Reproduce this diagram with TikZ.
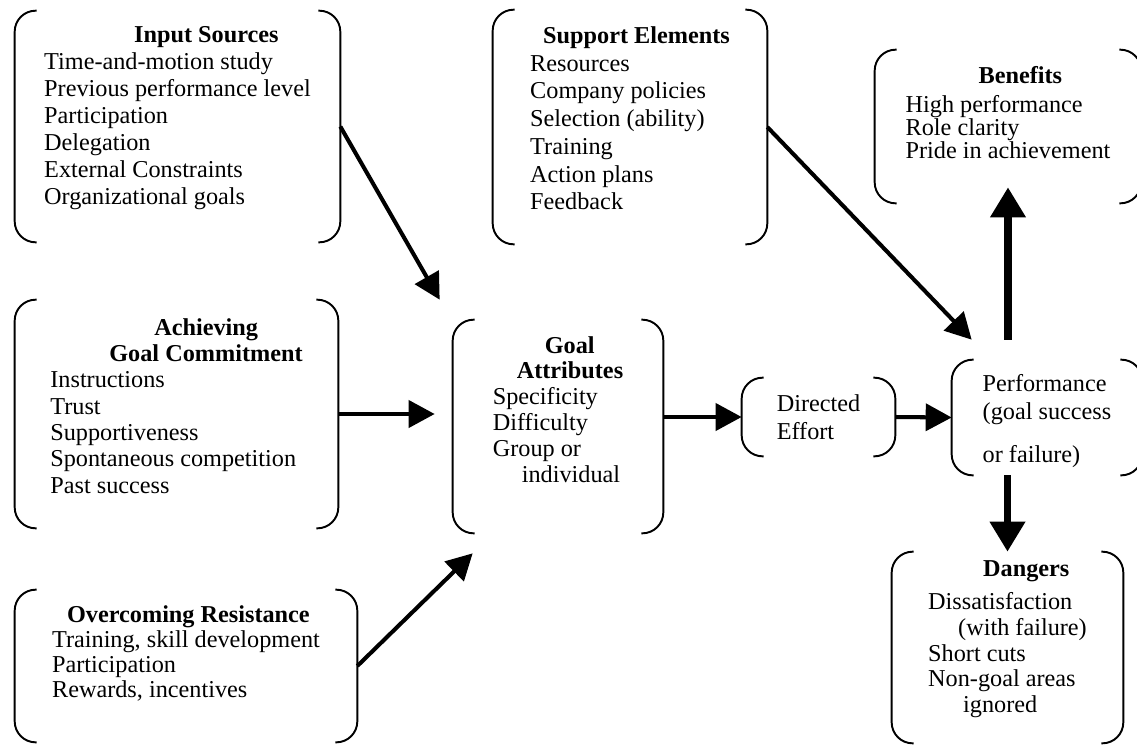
\documentclass[tikz,border=0pt]{standalone}
\usepackage{fontspec}
\setmainfont{Liberation Serif}
\usetikzlibrary{arrows.meta,calc}
\newcommand{\lowstrut}[1]{\rule[-#1]{0pt}{#1}}

\begin{document}
\begin{tikzpicture}[x=0.02cm, y=-0.02cm,
  box/.style={align=left, inner sep=0pt, font=\fontsize{13.8}{#1}\selectfont},
  brack/.style={line width=1.1pt, rounded corners=0.42cm},
  arr/.style={line width=2.3pt, -{Triangle[length=0.52cm,width=0.54cm]}},
  bigarr/.style={line width=4pt, -{Triangle[length=0.6cm,width=0.68cm]}}]

\clip (0,0) rectangle (1137,745);

\node[box=15.4, minimum width=6.5cm, minimum height=4.62cm] (inp) at (177.5,126.5)
  {\hspace*{1.8cm}\textbf{Input Sources}\\ Time-and-motion study\\ Previous performance level\\
   Participation\\ Delegation\\ External Constraints\\ Organizational goals\lowstrut{0.45cm}};
\node[box=15.8, minimum width=5.48cm, minimum height=4.68cm] (sup) at (630,127)
  {\hspace*{0.26cm}\textbf{Support Elements}\\ Resources\\ Company policies\\ Selection (ability)\\
   Training\\ Action plans\\ Feedback\lowstrut{0.35cm}};
\node[box=13.1, minimum width=5.32cm, minimum height=3.06cm] (ben) at (1008,126.5)
  {\hspace*{1.46cm}\textbf{Benefits}\\[3.4pt] High performance\\ Role clarity\\ Pride in achievement\lowstrut{0.57cm}};
\node[box=15, minimum width=6.46cm, minimum height=4.56cm] (ach) at (176.5,414)
  {\hspace*{2.08cm}\textbf{Achieving}\\ \hspace*{1.18cm}\textbf{Goal Commitment}\\ Instructions\\ Trust\\
   Supportiveness\\ Spontaneous competition\\ Past success\lowstrut{0.33cm}};
\node[box=14.7, minimum width=4.2cm, minimum height=4.26cm] (goal) at (558,426.5)
  {\hspace*{1.04cm}\textbf{Goal}\\ \hspace*{0.48cm}\textbf{Attributes}\\ Specificity\\ Difficulty\\
   Group or\\ \hspace*{0.58cm}individual\lowstrut{0.69cm}};
\node[box=16, minimum width=3.06cm, minimum height=1.56cm] (eff) at (818.5,417)
  {Directed\\ Effort};
\node[box=16, minimum width=3.8cm, minimum height=2.3cm] (perf) at (1047,417.5)
  {\rule{0pt}{0.49cm}Performance\\ (goal success\\[8.5pt] or failure)};
\node[box=14.7, minimum width=4.62cm, minimum height=3.82cm] (dan) at (1007.5,647.5)
  {\hspace*{1.1cm}\textbf{Dangers}\\[4pt] Dissatisfaction\\ \hspace*{0.6cm}(with failure)\\ Short cuts\\
   Non-goal areas\\ \hspace*{0.7cm}ignored\lowstrut{0.43cm}};
\node[box=14.2, minimum width=6.84cm, minimum height=3.04cm] (ovr) at (186,666)
  {\hspace*{0.3cm}\textbf{Overcoming Resistance}\\ Training, skill development\\ Participation\\
   Rewards, incentives\lowstrut{0.59cm}};

\foreach \n in {inp,sup,ben,ach,goal,eff,perf,dan,ovr}{
\draw[brack] ($(\n.north west)+(0.44cm,0)$) -- (\n.north west) -- (\n.south west) -- ($(\n.south west)+(0.44cm,0)$);
\draw[brack] ($(\n.north east)+(-0.44cm,0)$) -- (\n.north east) -- (\n.south east) -- ($(\n.south east)+(-0.44cm,0)$);
}

\draw[arr] (inp.east) -- ($(goal.north west)+(-0.26cm,0.4cm)$);
\draw[arr] (sup.east) -- ($(perf.north west)+(0.4cm,0.4cm)$);
\draw[arr] (ach.east) -- ($(goal.west |- ach.east)+(-0.36cm,0)$);
\draw[arr] (ovr.east) -- ($(goal.south west)+(0.4cm,-0.4cm)$);
\draw[arr] (goal.east |- eff.west) -- (eff.west);
\draw[arr] (eff.east) -- (perf.west);
\draw[bigarr] ($(ben.south |- perf.north)+(0,0.4cm)$) -- ($(ben.south)+(0,0.32cm)$);
\draw[bigarr] (dan.north |- perf.south) -- (dan.north);
\end{tikzpicture}
\end{document}
